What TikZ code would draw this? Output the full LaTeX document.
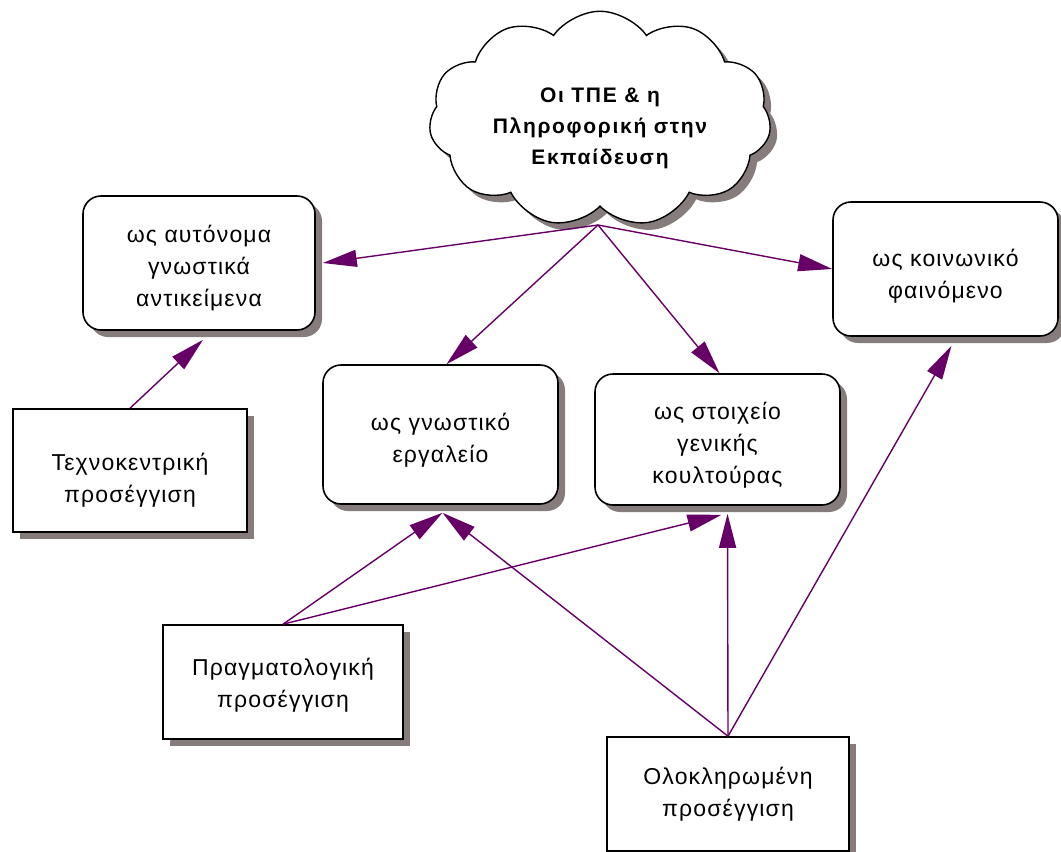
\documentclass[tikz,border=0pt]{standalone}
\usepackage{fontspec}
\setmainfont{Liberation Sans}
\newfontfamily\boxfont{Liberation Sans}[LetterSpace=5]
\newfontfamily\cloudfont{Liberation Sans}[LetterSpace=8]
\usetikzlibrary{shapes.symbols,shadows,arrows.meta,calc}
\definecolor{arrowpurple}{RGB}{102,0,102}
\definecolor{shadowgray}{RGB}{134,124,124}
\newcommand{\lowertext}[2]{\raisebox{-#1}[\height][\depth]{\begin{tabular}{@{}c@{}}#2\end{tabular}}}
\tikzset{
  shadowed/.style={drop shadow={shadow xshift=7pt,shadow yshift=-7pt,fill=shadowgray,opacity=1}},
  roundbox/.style={draw=black,line width=1.6pt,fill=white,rounded corners=18pt,shadowed,align=center,
    font=\boxfont\fontsize{23pt}{32pt}\selectfont,inner sep=0pt},
  sharpbox/.style={draw=black,line width=1.6pt,fill=white,shadowed,align=center,
    font=\boxfont\fontsize{23pt}{32pt}\selectfont,inner sep=0pt},
  cloudbox/.style={cloud,cloud puffs=11,cloud puff arc=110,aspect=1.7,draw=black,line width=1.4pt,fill=white,
    shadowed,align=center,font=\cloudfont\bfseries\fontsize{21pt}{31pt}\selectfont,inner sep=0pt},
  link/.style={draw=arrowpurple,line width=1.4pt,-{Triangle[length=34pt,width=17pt]}}
}
\begin{document}
\begin{tikzpicture}[x=1pt,y=-1pt]
\useasboundingbox (0,0) rectangle (1061,852);
% cloud
\node[cloudbox,minimum width=342pt,minimum height=205pt] (cl) at (600,119)
  {\lowertext{8pt}{Οι ΤΠΕ \& η\\Πληροφορική στην\\Εκπαίδευση}};
\coordinate (hub) at (598,225);
% boxes
\node[roundbox,minimum width=232pt,minimum height=134pt] (b1) at (199,263)
  {\lowertext{5pt}{ως αυτόνομα\\γνωστικά\\αντικείμενα}};
\node[sharpbox,minimum width=234pt,minimum height=123pt] (bT) at (130,470.5)
  {\lowertext{10pt}{Τεχνοκεντρική\\προσέγγιση}};
\node[roundbox,minimum width=235pt,minimum height=139pt] (bG) at (440.5,434.5)
  {\lowertext{6pt}{ως γνωστικό\\εργαλείο}};
\node[roundbox,minimum width=245pt,minimum height=131pt] (bS) at (717.5,439.5)
  {\lowertext{6pt}{ως στοιχείο\\γενικής\\κουλτούρας}};
\node[roundbox,minimum width=225pt,minimum height=134pt] (bK) at (945.5,269)
  {\lowertext{7pt}{ως κοινωνικό\\φαινόμενο}};
\node[sharpbox,minimum width=240pt,minimum height=114pt] (bP) at (283,682)
  {\lowertext{3pt}{Πραγματολογική\\προσέγγιση}};
\node[sharpbox,minimum width=242pt,minimum height=114pt] (bO) at (728,794)
  {\lowertext{0pt}{Ολοκληρωμένη\\προσέγγιση}};
% connectors
\draw[link] (hub) -- ($(b1.east)+(7,0)$);
\draw[link] (hub) -- ($(bG.north)+(6,0)$);
\draw[link] (hub) -- ($(bS.north)+(2,0)$);
\draw[link] (hub) -- (bK.west);
\draw[link] (bT.north) -- ($(b1.south)+(4,9)$);
\draw[link] (bP.north) -- ($(bG.south)+(2,8)$);
\draw[link] (bP.north) -- ($(bS.south)+(4,9)$);
\draw[link] (bO.north) -- ($(bG.south)+(2,8)$);
\draw[link] (bO.north) -- ($(bS.south)+(10,8)$);
\draw[link] (bO.north) -- ($(bK.south)+(6,9)$);
\end{tikzpicture}
\end{document}
